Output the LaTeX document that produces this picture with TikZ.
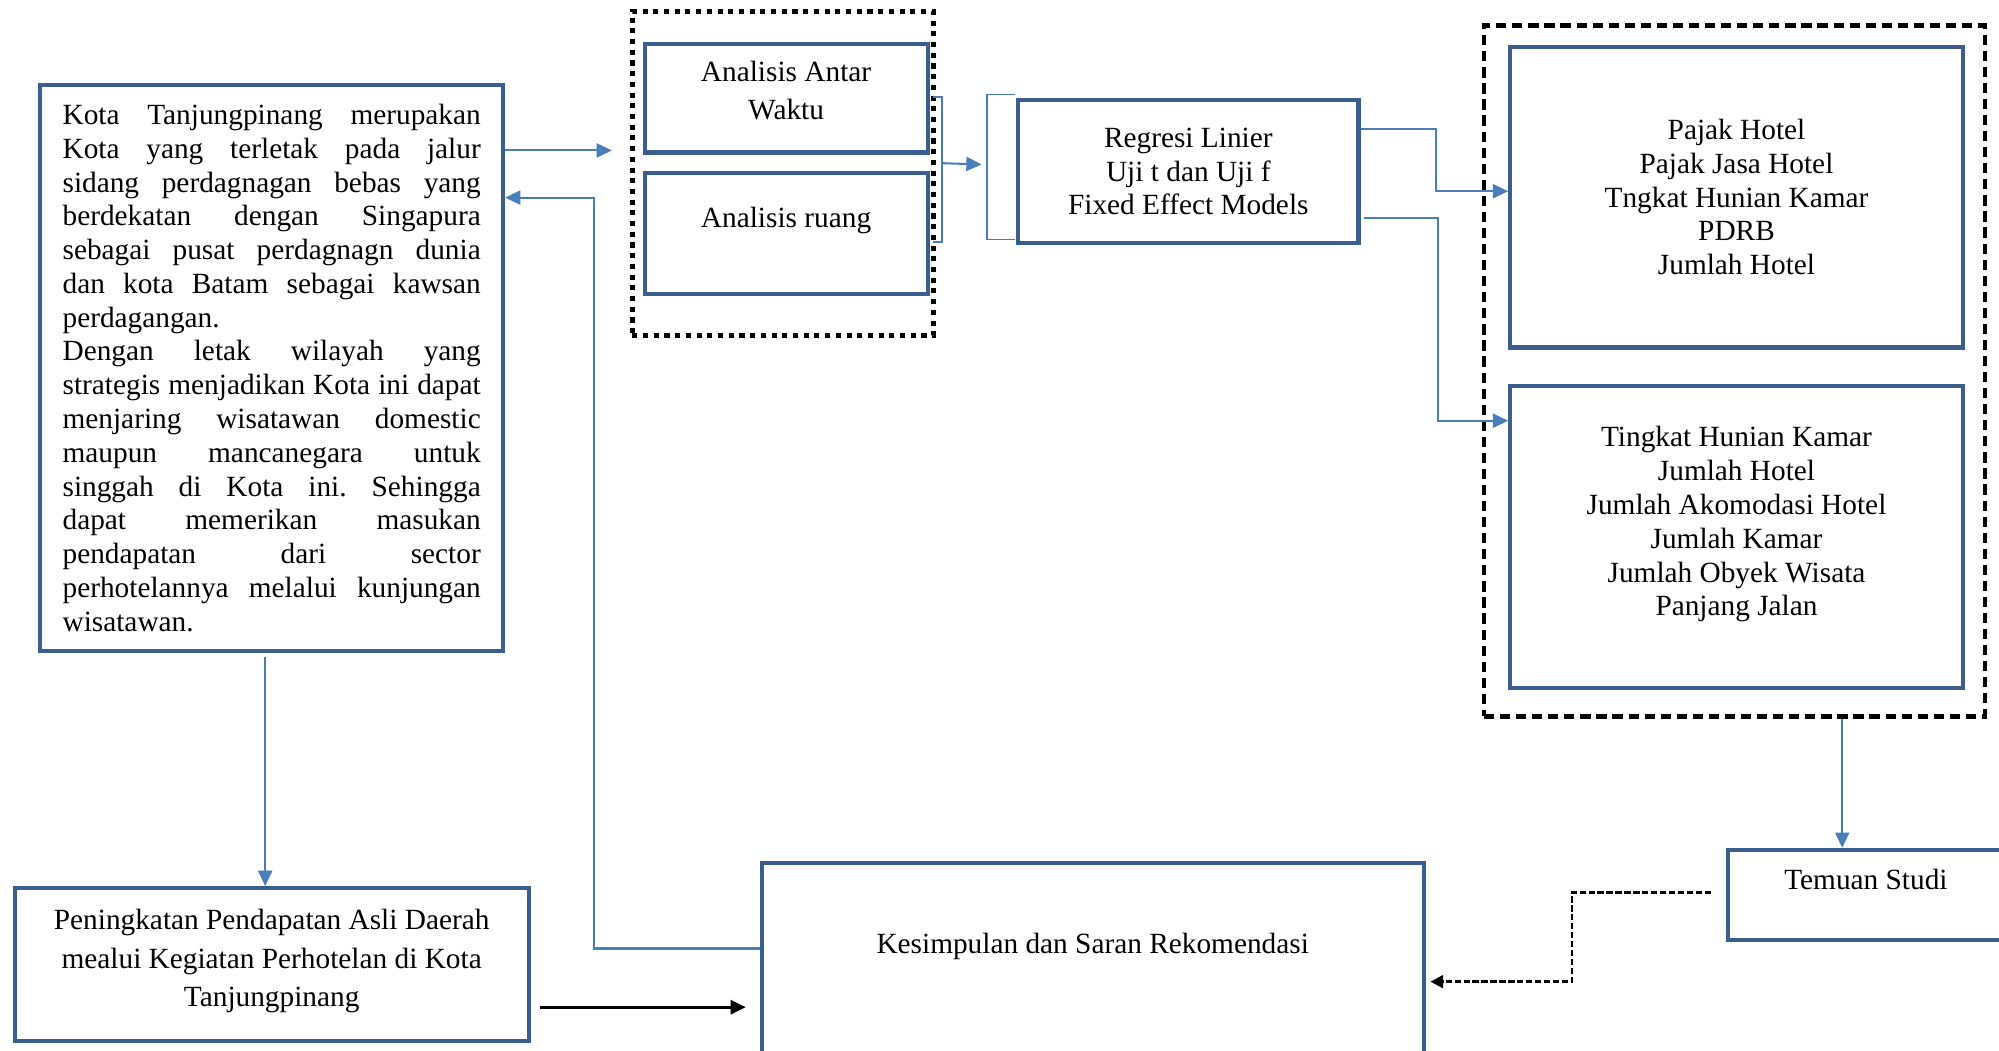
\documentclass[tikz,border=0pt]{standalone}
\usepackage{fontspec}
\setmainfont{Liberation Serif}
\usepackage{xcolor}
\usepackage{tikz}
\usetikzlibrary{arrows.meta,positioning,fit,calc}

\definecolor{boxblue}{HTML}{3A5F8E}
\definecolor{linkblue}{HTML}{4A7EBB}
% one justified line of the long box
\newcommand{\jl}[1]{\leavevmode\hbox to 164pt{\spaceskip=0.15em plus 1fil\xspaceskip=0.15em plus 1fil\relax #1}}

\begin{document}
\begin{tikzpicture}[
  x=0.5pt, y=-0.5pt,
  box/.style={draw=boxblue, line width=1.6pt, inner sep=0pt, align=center,
    font=\fontsize{11.5}{13.25}\selectfont},
  conn/.style={draw=linkblue, line width=0.8pt, -{Triangle[length=6pt,width=5.5pt]}},
  brk/.style={draw=linkblue, line width=0.6pt},
  blkarr/.style={draw=black, line width=1.2pt, -{Triangle[length=6pt,width=5.5pt]}},
  dasharr/.style={draw=black, line width=1pt, dash pattern=on 2.5pt off 1pt,
    -{Triangle[length=5pt,width=5pt]}},
  dotbox/.style={draw=black, line width=1.8pt, dash pattern=on 2pt off 2.2pt, inner sep=0pt},
  dashbox/.style={draw=black, line width=1.9pt, dash pattern=on 4pt off 2.3pt, inner sep=0pt}
]
  \useasboundingbox (0,0) rectangle (1568,824);

  % main boxes
  \node[box, anchor=north west, minimum width=181.5pt, minimum height=222pt,
    text width=164pt, align=left] (kota) at (30,65) {%
    \jl{Kota Tanjungpinang merupakan}\\
    \jl{Kota yang terletak pada jalur}\\
    \jl{sidang perdagnagan bebas yang}\\
    \jl{berdekatan dengan Singapura}\\
    \jl{sebagai pusat perdagnagn dunia}\\
    \jl{dan kota Batam sebagai kawsan}\\
    perdagangan.\\
    \jl{Dengan letak wilayah yang}\\
    \jl{strategis menjadikan Kota ini dapat}\\
    \jl{menjaring wisatawan domestic}\\
    \jl{maupun mancanegara untuk}\\
    \jl{singgah di Kota ini. Sehingga}\\
    \jl{dapat memerikan masukan}\\
    \jl{pendapatan dari sector}\\
    \jl{perhotelannya melalui kunjungan}\\
    wisatawan.};
  \node[box, anchor=north west, minimum width=111pt, minimum height=42.5pt,
    font=\fontsize{11.5}{15}\selectfont] (antar) at (504,33) {Analisis Antar\\Waktu\\[-8.5pt]\mbox{}};
  \node[box, anchor=north west, minimum width=111pt, text height=21.5pt,
    text depth=26pt] (ruang) at (504,134) {Analisis ruang};
  \node[dotbox, fit={(496,9) (732,263)}] (anal) {};
  \node[box, anchor=north west, minimum width=133.5pt, minimum height=56pt] (regresi)
    at (797,77) {Regresi Linier\\Uji t dan Uji f\\Fixed Effect Models};
  \node[box, anchor=north west, minimum width=177.5pt, minimum height=118pt] (hotel)
    at (1183,35) {Pajak Hotel\\Pajak Jasa Hotel\\Tngkat Hunian Kamar\\PDRB\\Jumlah Hotel};
  \node[box, anchor=north west, minimum width=177.5pt, minimum height=118.5pt] (wisata)
    at (1183,301) {Tingkat Hunian Kamar\\Jumlah Hotel\\Jumlah Akomodasi Hotel\\
    Jumlah Kamar\\Jumlah Obyek Wisata\\Panjang Jalan\\[-1pt]\mbox{}};
  \node[dashbox, fit={(1164,20) (1557,562)}] (vars) {};
  \node[box, anchor=north west, minimum width=108pt, text height=15.5pt,
    text depth=20pt] (temuan) at (1354,665) {Temuan Studi};
  \node[box, anchor=north west, minimum width=259.5pt, text height=35.5pt,
    text depth=50pt] (kesimp) at (596,675) {Kesimpulan dan Saran Rekomendasi};
  \node[box, anchor=north west, minimum width=201.5pt, minimum height=60pt,
    font=\fontsize{11.5}{15.25}\selectfont] (pening) at (10,695)
    {Peningkatan Pendapatan Asli Daerah\\mealui Kegiatan Perhotelan di Kota\\Tanjungpinang\\[-10pt]\mbox{}};

  % bend points
  \coordinate (gin) at (480,118);
  \coordinate (bk) at (466,744);
  \coordinate (bktop) at (466,155);
  \coordinate (r1) at (1126,101);
  \coordinate (r1b) at (1126,150);
  \coordinate (r2a) at (1070,171);
  \coordinate (r2) at (1128,171);
  \coordinate (r2b) at (1128,330);
  \coordinate (tm) at (1445,0);
  \coordinate (kd) at (208,0);
  \coordinate (ar) at (0,790);
  \coordinate (d1) at (1342,700);
  \coordinate (d2) at (1233,700);
  \coordinate (d3) at (1233,770);
  \coordinate (d4) at (1122,770);

  % brackets
  \draw[brk] (732,76) -- (739,76) -- (739,190) -- (732,190);
  \draw[brk] (796,74) -- (774,74) -- (774,188) -- (796,188);

  % connectors
  \draw[conn] (kota.east |- gin) -- (gin);
  \draw[conn] (kesimp.west |- bk) -- (bk) -- (bktop) -- (kota.east |- bktop);
  \draw[conn] (739,128) -- (770,129);
  \draw[conn] (regresi.east |- r1) -- (r1) -- (r1b) -- (hotel.west |- r1b);
  \draw[conn] (r2a) -- (r2) -- (r2b) -- (wisata.west |- r2b);
  \draw[conn] (vars.south -| tm) -- (temuan.north -| tm);
  \draw[conn] ([yshift=-1.5pt]kota.south -| kd) -- (pening.north -| kd);
  \draw[blkarr] ([xshift=3.5pt]pening.east |- ar) -- ([xshift=-5.5pt]kesimp.west |- ar);
  \draw[dasharr] (d1) -- (d2) -- (d3) -- (d4);
\end{tikzpicture}
\end{document}
